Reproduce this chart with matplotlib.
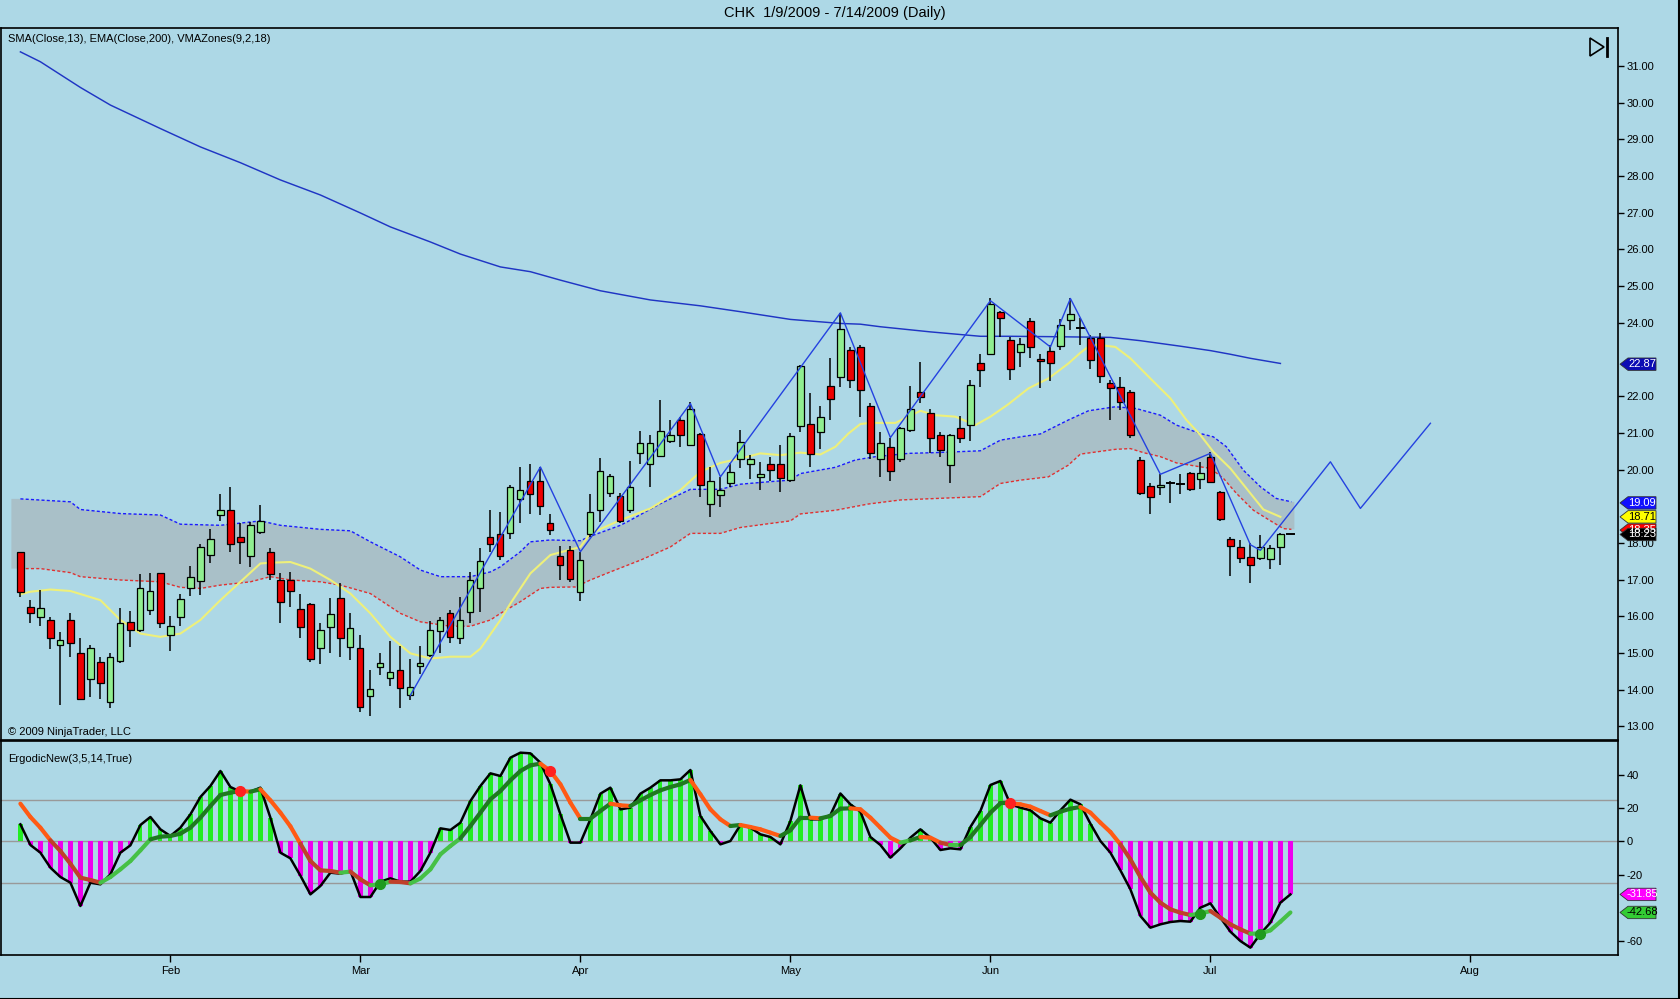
import matplotlib
matplotlib.use('Agg')
import matplotlib.pyplot as plt
import numpy as np
from matplotlib.patches import Polygon, Rectangle
from matplotlib.lines import Line2D
from matplotlib.collections import LineCollection

plt.rcParams['font.family'] = ['Liberation Sans', 'DejaVu Sans']
plt.rcParams['axes.unicode_minus'] = False

# ---------------- data ----------------
opens = [17.76, 16.26, 15.99, 15.90, 15.23, 15.91, 14.99, 14.28, 14.76, 13.67,
         14.79, 15.85, 15.64, 16.17, 17.17, 15.50, 15.97, 16.76, 16.97, 17.67,
         18.76, 18.91, 18.15, 17.64, 18.30, 17.74, 17.00, 17.00, 16.21, 16.33,
         15.15, 15.71, 16.49, 15.17, 15.15, 13.82, 14.61, 14.33, 14.55, 13.85,
         14.64, 14.94, 15.61, 16.08, 15.42, 16.11, 16.76, 18.17, 18.24, 18.26,
         19.21, 19.68, 19.68, 18.53, 17.64, 17.80, 16.65, 18.23, 18.91, 19.35,
         19.28, 18.91, 20.46, 20.15, 20.36, 20.78, 21.35, 20.66, 20.98, 19.06,
         19.30, 19.62, 20.30, 20.16, 19.80, 20.16, 20.14, 19.71, 21.18, 21.23,
         21.01, 22.28, 22.53, 23.27, 23.34, 21.73, 20.30, 20.60, 20.30, 21.09,
         22.12, 21.53, 20.94, 20.12, 21.12, 21.21, 22.91, 23.14, 24.30, 23.54,
         23.19, 24.05, 23.00, 23.24, 23.36, 24.07, 23.86, 23.57, 23.57, 22.35,
         22.25, 22.12, 20.27, 19.56, 19.51, 19.64, 19.60, 19.91, 19.73, 20.33,
         19.38, 18.12, 17.90, 17.62, 17.60, 17.56, 17.90, 18.23]
highs = [17.76, 16.44, 16.73, 15.97, 15.56, 16.08, 15.42, 15.21, 14.90, 14.99,
         16.24, 16.15, 17.15, 17.19, 17.19, 16.00, 16.60, 17.38, 17.98, 18.37,
         19.33, 19.51, 18.55, 18.58, 19.03, 17.85, 17.19, 17.21, 16.60, 16.35,
         15.82, 16.51, 16.91, 16.10, 15.49, 14.53, 15.01, 15.33, 15.19, 14.85,
         15.19, 15.88, 15.99, 16.17, 16.53, 17.21, 17.85, 18.89, 18.85, 19.57,
         20.07, 20.15, 20.07, 18.80, 17.91, 17.91, 17.76, 19.33, 20.32, 19.87,
         19.35, 20.23, 21.05, 20.94, 21.89, 21.36, 21.42, 21.83, 21.00, 20.07,
         19.80, 20.17, 21.09, 20.39, 20.21, 20.35, 20.66, 21.00, 22.84, 22.09,
         21.73, 23.03, 24.27, 23.34, 23.39, 21.80, 21.01, 20.87, 21.16, 22.27,
         22.94, 21.66, 21.03, 20.97, 21.46, 22.45, 23.14, 24.66, 24.32, 23.62,
         23.57, 24.12, 23.14, 23.39, 24.09, 24.66, 24.12, 23.66, 23.71, 22.44,
         22.51, 22.16, 20.33, 19.62, 19.87, 19.68, 19.87, 19.94, 20.21, 20.48,
         19.42, 18.15, 18.08, 18.00, 18.21, 17.94, 18.28, 18.23]
lows = [16.53, 15.82, 15.73, 15.12, 13.58, 14.90, 13.72, 13.81, 13.76, 13.49,
        14.73, 15.17, 15.58, 16.03, 15.67, 15.06, 15.73, 16.55, 16.58, 17.44,
        18.60, 17.76, 17.42, 17.35, 18.24, 16.99, 15.81, 16.26, 15.40, 14.76,
        14.71, 15.01, 14.90, 14.82, 13.40, 13.28, 14.40, 14.10, 13.49, 13.72,
        14.42, 14.88, 14.99, 15.28, 15.24, 15.81, 16.12, 17.76, 17.53, 18.12,
        18.53, 18.80, 18.76, 18.21, 16.99, 16.94, 16.42, 18.17, 18.58, 19.24,
        18.55, 18.82, 20.16, 19.53, 20.35, 20.71, 20.62, 20.64, 19.26, 18.71,
        18.98, 19.53, 20.03, 19.73, 19.44, 19.69, 19.39, 19.67, 21.03, 20.06,
        20.57, 21.35, 22.25, 22.21, 21.44, 20.30, 19.80, 19.69, 20.21, 21.03,
        21.82, 20.44, 20.35, 19.62, 20.73, 20.78, 22.24, 23.12, 23.62, 22.44,
        22.78, 23.03, 22.21, 22.42, 23.25, 23.80, 23.39, 22.73, 22.36, 21.35,
        21.62, 20.87, 19.30, 18.80, 19.30, 19.09, 19.33, 19.42, 19.46, 19.62,
        18.60, 17.09, 17.44, 16.91, 17.53, 17.28, 17.39, 18.23]
closes = [16.67, 16.08, 16.24, 15.41, 15.35, 15.26, 13.76, 15.15, 14.19, 14.88,
          15.81, 15.62, 16.76, 16.69, 15.81, 15.74, 16.46, 17.08, 17.88, 18.12,
          18.89, 17.98, 18.03, 18.48, 18.60, 17.15, 16.38, 16.69, 15.71, 14.85,
          15.62, 16.05, 15.42, 15.69, 13.53, 14.01, 14.74, 14.47, 14.06, 14.08,
          14.74, 15.62, 15.91, 15.44, 15.91, 16.99, 17.51, 17.97, 17.64, 19.51,
          19.44, 19.33, 19.00, 18.35, 17.41, 17.03, 17.53, 18.83, 19.96, 19.82,
          18.60, 19.51, 20.71, 20.71, 21.04, 20.94, 20.95, 21.65, 19.59, 19.69,
          19.44, 19.94, 20.76, 20.30, 19.89, 19.98, 19.76, 20.91, 22.83, 20.42,
          21.42, 21.92, 23.84, 22.44, 22.18, 20.46, 20.71, 19.96, 21.12, 21.66,
          21.98, 20.87, 20.53, 20.94, 20.85, 22.29, 22.71, 24.52, 24.14, 22.75,
          23.41, 23.33, 22.95, 22.89, 23.95, 24.25, 23.86, 22.98, 22.55, 22.21,
          21.85, 20.94, 19.35, 19.26, 19.59, 19.64, 19.60, 19.48, 19.90, 19.67,
          18.64, 17.92, 17.58, 17.41, 17.90, 17.85, 18.23, 18.23]

ema_bars = [0, 2, 6, 9, 14, 18, 22, 26, 30, 34, 37, 41, 44, 48, 51, 54, 58, 63, 68,
            72, 77, 82, 84, 86, 91, 96, 99, 103, 109, 112, 116, 119, 121, 123, 126]
ema_vals = [31.38, 31.11, 30.41, 29.93, 29.29, 28.79, 28.36, 27.89, 27.48, 26.99,
            26.61, 26.20, 25.87, 25.52, 25.39, 25.16, 24.87, 24.62, 24.46, 24.30,
            24.09, 23.98, 23.96, 23.89, 23.75, 23.63, 23.63, 23.62, 23.60, 23.51,
            23.36, 23.24, 23.14, 23.03, 22.89]

sma_bars = [0, 1, 3, 5, 8, 10, 12, 14, 16, 18, 20, 22, 24, 25, 27, 29, 31, 33, 35,
            37, 39, 41, 43, 45, 46, 48, 49, 51, 53, 56, 57, 60, 63, 66, 68, 70, 72,
            74, 76, 78, 80, 81.5, 82.8, 84, 85, 87.5, 90, 91.5, 93.5, 95.5, 97,
            98.8, 100.8, 102.8, 104.8, 106, 107, 108, 109.5, 111, 113, 115, 116.6,
            118, 119.3, 121, 123, 124.3, 126]
sma_vals = [16.60, 16.67, 16.73, 16.69, 16.44, 15.90, 15.53, 15.44, 15.53, 15.90,
            16.44, 16.94, 17.44, 17.46, 17.48, 17.30, 16.99, 16.62, 16.08, 15.44,
            14.99, 14.85, 14.90, 14.90, 15.12, 15.90, 16.35, 17.17, 17.67, 17.89,
            18.26, 18.62, 18.94, 19.44, 19.94, 20.18, 20.30, 20.44, 20.39, 20.46,
            20.41, 20.62, 20.98, 21.24, 21.27, 21.27, 21.60, 21.48, 21.44, 21.21,
            21.44, 21.78, 22.21, 22.48, 22.89, 23.18, 23.39, 23.39, 23.34, 23.03,
            22.48, 21.94, 21.35, 20.94, 20.48, 20.03, 19.35, 18.91, 18.71]

vma_up_bars = [0, 5, 6, 10, 14, 16, 20, 24, 26, 30, 33, 35, 38, 40, 42, 45, 47, 48,
               50, 51, 53, 56, 57, 60, 61, 64, 67, 70, 72, 75, 77, 78, 81.5, 83.5,
               85.5, 88.8, 91.5, 96, 98, 100, 102, 104.8, 106.8, 109.5, 111.6, 114,
               115.6, 118, 119.3, 120.6, 122.3, 124, 125.6, 127.1]
vma_up_vals = [19.20, 19.12, 18.91, 18.80, 18.76, 18.51, 18.48, 18.60, 18.48, 18.37,
               18.33, 18.03, 17.62, 17.26, 17.08, 17.08, 17.21, 17.35, 17.76, 18.03,
               18.08, 18.06, 18.18, 18.48, 18.62, 19.07, 19.46, 19.46, 19.60, 19.67,
               19.71, 19.89, 20.06, 20.26, 20.35, 20.44, 20.46, 20.51, 20.80, 20.89,
               20.97, 21.35, 21.60, 21.71, 21.66, 21.48, 21.21, 20.98, 20.89, 20.62,
               19.98, 19.53, 19.21, 19.12]

vma_dn_bars = [0, 2, 5, 6, 10, 14, 16, 18, 20, 23, 25, 27, 30, 32, 35, 38, 40, 43,
               45, 47, 48, 50, 52, 53, 55.5, 57, 59, 62, 65, 67, 70, 72, 75, 77, 78,
               81.5, 84.8, 88, 91.5, 96, 98, 100, 102.8, 104.8, 106, 109.5, 111,
               112.3, 114, 115.6, 117.6, 119, 120.3, 121.6, 123.3, 124.9, 126.3, 127.1]
vma_dn_vals = [17.30, 17.30, 17.19, 17.08, 16.99, 16.94, 16.79, 16.76, 16.85, 16.94,
               17.08, 16.99, 16.94, 16.85, 16.62, 16.08, 15.85, 15.73, 15.73, 15.90,
               16.08, 16.40, 16.76, 16.79, 16.80, 16.99, 17.21, 17.53, 17.89, 18.26,
               18.26, 18.42, 18.53, 18.60, 18.79, 18.89, 19.06, 19.17, 19.21, 19.26,
               19.62, 19.71, 19.80, 20.12, 20.42, 20.55, 20.57, 20.46, 20.35, 20.18,
               20.09, 20.03, 19.76, 19.35, 18.89, 18.62, 18.39, 18.37]

zigzag_bars = [39, 52, 56, 67, 70, 82, 87, 97, 103, 105, 114, 119, 123, 124, 131, 134, 141]
zigzag_vals = [13.85, 20.07, 17.76, 21.80, 19.80, 24.27, 20.87, 24.60, 23.34, 24.66,
               19.87, 20.44, 17.95, 17.80, 20.21, 18.94, 21.26]

ergodic = [10.2, -2.2, -6.8, -15.8, -21.4, -24.8, -38.8, -24.8, -25.8, -19.8,
           -6.8, -2.4, 9.8, 14.6, 7.2, 3.2, 8.2, 16.2, 26.6, 33.2,
           42.2, 32.6, 29.8, 29.8, 32.2, 14.2, -6.8, -10.2, -20.6, -31.8,
           -26.8, -18.8, -19.4, -17.8, -33.4, -33.4, -24.2, -22.2, -24.2, -24.2,
           -17.8, -6.8, 7.8, 6.8, 11.2, 24.2, 33.2, 40.8, 39.2, 50.2,
           53.2, 52.8, 47.2, 34.2, 16.2, -0.8, -0.8, 13.2, 28.6, 32.2,
           19.2, 20.2, 28.6, 32.2, 36.6, 36.6, 37.2, 42.8, 15.2, 6.2,
           -1.8, 0.2, 9.8, 8.2, 4.2, 2.6, -1.8, 12.2, 33.6, 13.2,
           13.2, 15.8, 28.7, 22.2, 17.8, 2.6, -2.2, -9.8, -4.2, 2.2,
           7.2, 2.2, -5.2, -4.2, -4.8, 8.6, 18.2, 33.8, 36.2, 22.2,
           20.2, 18.6, 13.8, 11.2, 18.6, 25.0, 22.2, 10.6, 0.2, -6.8,
           -17.4, -28.8, -44.8, -51.8, -49.8, -48.4, -47.8, -48.2, -39.8, -37.2,
           -45.8, -54.2, -59.8, -63.8, -55.5, -48.8, -36.8, -31.85]
signal = [22.6, 14.6, 8.2, 0.6, -5.8, -13.4, -21.8, -23.2, -24.8, -21.4,
          -16.8, -11.8, -5.4, 1.2, 2.8, 3.2, 4.6, 8.2, 14.2, 21.2,
          27.8, 29.2, 30.2, 29.8, 31.2, 24.6, 17.2, 9.0, -1.4, -11.8,
          -17.4, -17.8, -18.8, -18.2, -22.8, -26.4, -25.8, -24.2, -24.4, -25.2,
          -22.3, -16.8, -7.8, -2.8, 1.8, 9.2, 17.2, 25.2, 30.2, 36.6,
          42.2, 45.6, 46.6, 42.2, 34.2, 23.2, 13.6, 13.6, 18.2, 22.6,
          21.6, 21.2, 24.6, 27.8, 30.6, 32.6, 34.2, 36.8, 28.2, 19.2,
          13.2, 9.2, 9.8, 8.6, 7.2, 5.2, 3.2, 6.6, 14.2, 14.2,
          13.8, 15.2, 19.6, 19.8, 19.2, 14.2, 8.2, 2.2, -0.8, 0.6,
          2.6, 2.2, -0.8, -2.2, -2.2, 2.6, 9.8, 17.2, 22.8, 22.8,
          22.2, 20.8, 18.2, 15.6, 17.8, 19.6, 20.6, 17.2, 11.2, 5.6,
          -1.8, -10.8, -21.4, -30.8, -36.8, -40.8, -42.8, -44.2, -43.4, -41.8,
          -45.8, -49.8, -52.8, -55.4, -55.3, -53.4, -48.2, -42.68]
sell_dot_bars = [22, 53, 99]
buy_dot_bars = [36, 118, 124]

month_labels = ['Feb', 'Mar', 'Apr', 'May', 'Jun', 'Jul', 'Aug']
month_bars = [15, 34, 56, 77, 97, 119, 145]

price_ticks = [13, 14, 15, 16, 17, 18, 20, 21, 22, 24, 25, 26, 27, 28, 29, 30, 31]
price_flags = [(22.87, '#0c0cb4', 'white'), (19.09, '#1010ff', 'white'),
               (18.71, '#ffff00', 'black'), (18.35, '#ff0000', 'white'),
               (18.23, '#000000', 'white')]
osc_flags = [(-31.85, '#ff00ff', 'white'), (-42.68, '#33cc33', 'black')]

# ---------------- figure ----------------
W, H = 1680, 999
BG = '#add8e6'
fig = plt.figure(figsize=(W / 100, H / 100), dpi=100, facecolor=BG)

def fx(px):
    return px / W

def fy(py):
    return 1 - py / H

left, right = fx(1), fx(1618)
ax = fig.add_axes([left, fy(740), right - left, fy(28) - fy(740)], facecolor=BG)
ax2 = fig.add_axes([left, fy(955), right - left, fy(741) - fy(955)], facecolor=BG, sharex=ax)

XMIN, XMAX = -1.94, 159.76
ax.set_xlim(XMIN, XMAX)
ax.set_ylim(12.63, 32.03)
ax2.set_ylim(-68.2, 60.2)

for a in (ax, ax2):
    for s in a.spines.values():
        s.set_color('black')
        s.set_linewidth(1.2)
    a.yaxis.tick_right()
    a.tick_params(axis='y', direction='out', length=4, pad=2, labelsize=8,
                  colors='black', width=1)

ax.set_yticks(price_ticks)
ax.set_yticklabels(['%.2f' % v for v in price_ticks])
ax.tick_params(axis='x', bottom=False, labelbottom=False)

ax2.set_yticks([40, 20, 0, -20, -60])
ax2.set_yticklabels(['40', '20', '0', '-20', '-60'])
ax2.set_xticks(month_bars)
ax2.set_xticklabels(month_labels)
ax2.tick_params(axis='x', direction='out', length=5, pad=3, labelsize=8, width=1)

# VMA zone fill
ub = np.array(vma_up_bars, float); uv = np.array(vma_up_vals)
lb = np.array(vma_dn_bars, float); lv = np.array(vma_dn_vals)
poly_x = np.concatenate([[ub[0] - 0.9], ub, [ub[-1] + 0.3], [lb[-1] + 0.3], lb[::-1], [lb[0] - 0.9]])
poly_y = np.concatenate([[uv[0]], uv, [uv[-1]], [lv[-1]], lv[::-1], [lv[0]]])
ax.fill(poly_x, poly_y, color='#a9c0c8', lw=0, zorder=1)
ax.plot(ub, uv, color='#1a1aff', lw=1.0, ls=(0, (2.2, 1.6)), zorder=2)
ax.plot(lb, lv, color='#e03030', lw=1.0, ls=(0, (2.2, 1.6)), zorder=2)

# SMA and EMA
ax.plot(sma_bars, sma_vals, color='#eef07a', lw=1.5, zorder=2.5)
ax.plot(ema_bars, ema_vals, color='#1f35c4', lw=1.05, zorder=2.5)

# candles
bw = 0.62
for i, (o, h, l, c) in enumerate(zip(opens, highs, lows, closes)):
    if h > l:
        ax.plot([i, i], [l, h], color='black', lw=1.1, zorder=3, solid_capstyle='butt')
    if abs(c - o) < 0.01:
        ax.plot([i - bw / 2, i + bw / 2], [c, c], color='black', lw=1.4, zorder=4)
    else:
        col = '#90ee90' if c > o else '#ee0000'
        ax.add_patch(Rectangle((i - bw / 2, min(o, c)), bw, abs(c - o), facecolor=col,
                               edgecolor='black', lw=0.9, zorder=4))

# zigzag
ax.plot(zigzag_bars, zigzag_vals, color='#2442e0', lw=1.0, zorder=5)

ax.text(fx(7) / (right - left), 0.985, 'SMA(Close,13), EMA(Close,200), VMAZones(9,2,18)',
        transform=ax.transAxes, fontsize=8, va='center', ha='left')
ax.text(fx(7) / (right - left), 0.0115, '\u00a9 2009 NinjaTrader, LLC',
        transform=ax.transAxes, fontsize=8, va='center', ha='left')

# ---------------- oscillator ----------------
for lvl in (25, 0, -25):
    ax2.axhline(lvl, color='#999999', lw=1.0, zorder=1)
xs = np.arange(len(ergodic))
erg = np.array(ergodic)
hist_cols = ['#22ee22' if v >= 0 else '#ee00ee' for v in erg]
ax2.bar(xs, erg, width=0.42, color=hist_cols, zorder=2, linewidth=0)
ax2.plot(xs, erg, color='black', lw=1.8, zorder=3)

sig = np.array(signal)
segs, cols = [], []
for i in range(len(sig) - 1):
    segs.append([(i, sig[i]), (i + 1, sig[i + 1])])
    mid = (sig[i] + sig[i + 1]) / 2
    if sig[i + 1] >= sig[i]:
        cols.append('#1f7a1f' if mid >= 0 else '#46c046')
    else:
        cols.append('#ff5a14' if mid >= 0 else '#c0402a')
ax2.add_collection(LineCollection(segs, colors=cols, linewidths=3.0, capstyle='round', zorder=4))
ax2.plot(sell_dot_bars, [sig[b] for b in sell_dot_bars], 'o', color='#ff2020', ms=7, zorder=5)
ax2.plot(buy_dot_bars, [sig[b] for b in buy_dot_bars], 'o', color='#1f9a1f', ms=7, zorder=5)

ax2.text(fx(7) / (right - left), 0.918, 'ErgodicNew(3,5,14,True)', transform=ax2.transAxes,
         fontsize=8, va='center', ha='left')

# ---------------- value flags ----------------
def flag(a, val, bg, fg, fmt):
    ypix = a.transData.transform((0, val))[1]
    hh = 6.2
    xt, xr0, xr1 = 1620, 1628, 1656
    pts = [(xt, ypix), (xr0, ypix + hh), (xr1, ypix + hh), (xr1, ypix - hh), (xr0, ypix - hh)]
    pts = [(px / W, py / H) for px, py in pts]
    fig.add_artist(Polygon(pts, closed=True, transform=fig.transFigure, facecolor=bg,
                           edgecolor='#333333', lw=0.6, zorder=10))
    fig.text(1642 / W, ypix / H, fmt % val, color=fg, fontsize=8, ha='center', va='center', zorder=11)

for v, bg, fg in price_flags:
    flag(ax, v, bg, fg, '%.2f')
for v, bg, fg in osc_flags:
    flag(ax2, v, bg, fg, '%.2f')

# title
fig.text(0.497, fy(13), 'CHK  1/9/2009 - 7/14/2009 (Daily)', ha='center', va='center', fontsize=10.5)

# play-to-end icon
tri = [(fx(1590), fy(38)), (fx(1590), fy(56)), (fx(1604), fy(47))]
fig.add_artist(Polygon(tri, closed=True, transform=fig.transFigure, fill=False, ec='black', lw=1.2))
fig.add_artist(Line2D([fx(1607), fx(1607)], [fy(38), fy(56)], transform=fig.transFigure,
                      color='black', lw=2))

# outer frame (right and bottom)
fig.add_artist(Line2D([fx(1679), fx(1679)], [fy(0), fy(998.5)], transform=fig.transFigure, color='black', lw=1.5))
fig.add_artist(Line2D([fx(0), fx(1679)], [fy(998.5), fy(998.5)], transform=fig.transFigure, color='black', lw=1.5))

fig.savefig('out.png', dpi=100, facecolor=BG)
